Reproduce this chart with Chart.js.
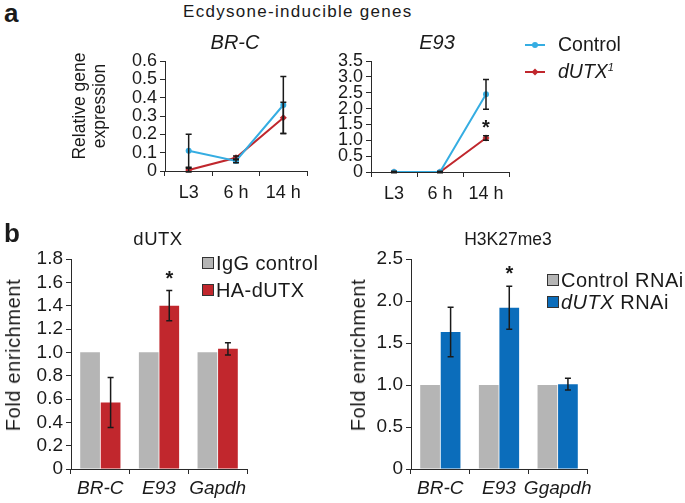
<!DOCTYPE html>
<html><head><meta charset="utf-8">
<script src="https://cdn.jsdelivr.net/npm/chart.js@4/dist/chart.umd.min.js"></script>
<style>
html,body{margin:0;padding:0;background:#fff}
body{width:685px;height:503px;position:relative;overflow:hidden;font-family:'Liberation Sans',Arial,sans-serif;color:#1a1a1a}
canvas{position:absolute}
.t{position:absolute;white-space:nowrap;line-height:1}
</style></head><body>
<canvas id="c1" width="260" height="175" style="left:60px;top:35px"></canvas>
<canvas id="c2" width="200" height="175" style="left:330px;top:35px"></canvas>
<canvas id="c3" width="255" height="273" style="left:10px;top:230px"></canvas>
<canvas id="c4" width="245" height="273" style="left:360px;top:230px"></canvas>
<script>
// ---------- data ----------
const stages = ['L3', '6 h', '14 h'];
const brcControl = [0.11, 0.055, 0.36];
const brcControlErr = [0.09, 0.01, 0.155];
const brcMutant = [0.005, 0.072, 0.29];
const brcMutantErr = [0.01, 0.01, 0.085];
const e93Control = [0, 0, 2.45];
const e93ControlErr = [0, 0, 0.47];
const e93Mutant = [0, 0, 1.07];
const e93MutantErr = [0.02, 0.02, 0.07];
const e93Significant = [false, false, true];

const genesLeft = ['BR-C', 'E93', 'Gapdh'];
const igg = [1, 1, 1];
const haDutx = [0.57, 1.40, 1.03];
const haDutxErr = [0.215, 0.13, 0.053];
const dutxSignificant = [false, true, false];

const genesRight = ['BR-C', 'E93', 'Ggapdh'];
const controlRnai = [1, 1, 1];
const dutxRnai = [1.63, 1.92, 1.01];
const dutxRnaiErr = [0.295, 0.255, 0.07];
const h3Significant = [false, true, false];

const brcTicks = ['0', '0.1', '0.2', '0.3', '0.4', '0.5', '0.6'];
const e93Ticks = ['0', '0.5', '1.0', '1.5', '2.0', '2.5', '3.0', '3.5'];
const dutxTicks = ['0', '0.2', '0.4', '0.6', '0.8', '1.0', '1.2', '1.4', '1.6', '1.8'];
const h3Ticks = ['0', '0.5', '1.0', '1.5', '2.0', '2.5'];

// ---------- colours ----------
const LINE_BLUE = '#35ade2';
const LINE_RED = '#c0272d';
const BAR_GRAY = '#b5b5b5';
const BAR_RED = '#c1272d';
const BAR_BLUE = '#0b6dbb';
const AXIS = '#2a2a2a';
const INK = '#1a1a1a';
const FONT = "'Liberation Sans', Arial, sans-serif";

Chart.defaults.font.family = FONT;
Chart.defaults.color = INK;

// error bars + asterisks plugin
const errorBars = {
  id: 'errorBars',
  afterDatasetsDraw(chart) {
    const ctx = chart.ctx;
    const ys = chart.scales.y;
    ctx.save();
    ctx.strokeStyle = INK;
    ctx.lineWidth = 1.5;
    chart.data.datasets.forEach((ds, di) => {
      if (!ds.err) return;
      const meta = chart.getDatasetMeta(di);
      meta.data.forEach((el, i) => {
        const e = ds.err[i];
        if (!e) return;
        const v = ds.data[i];
        const x = el.x;
        const y1 = ys.getPixelForValue(v + e);
        const y2 = ys.getPixelForValue(v - e);
        ctx.beginPath();
        ctx.moveTo(x, y1); ctx.lineTo(x, y2);
        ctx.moveTo(x - 3, y1); ctx.lineTo(x + 3, y1);
        ctx.moveTo(x - 3, y2); ctx.lineTo(x + 3, y2);
        ctx.stroke();
      });
    });
    const cfg = chart.options.plugins.errorBars || {};
    const sig = cfg.sig, mode = cfg.mode;
    if (sig) {
      ctx.fillStyle = INK;
      ctx.font = 'bold 20px ' + FONT;
      ctx.textAlign = 'center';
      ctx.textBaseline = 'alphabetic';
      sig.forEach((s, i) => {
        if (!s) return;
        let x, y;
        if (mode === 'between') {
          const a = chart.data.datasets[0], b = chart.data.datasets[1];
          const lo = a.data[i] - a.err[i];
          const hi = b.data[i] + b.err[i];
          x = chart.getDatasetMeta(0).data[i].x;
          y = (ys.getPixelForValue(lo) + ys.getPixelForValue(hi)) / 2 + 11;
        } else {
          const b = chart.data.datasets[1];
          x = chart.getDatasetMeta(1).data[i].x;
          y = ys.getPixelForValue(b.data[i] + b.err[i]) - 6;
        }
        ctx.fillText('*', x, y);
      });
    }
    ctx.restore();
  }
};

function yAxis(max, step, labels, width, size) {
  return {
    min: 0, max: max,
    afterFit(s) { s.width = width; },
    border: { display: true, color: AXIS, width: 1 },
    grid: { display: true, drawOnChartArea: false, drawTicks: true, tickLength: 5, color: AXIS },
    ticks: {
      stepSize: step, padding: 3, color: INK, autoSkip: false,
      font: { size: size },
      callback: (v, i) => labels[i]
    }
  };
}
function xAxis(height, italic, size, pad) {
  return {
    offset: true,
    afterFit(s) { s.height = height; },
    border: { display: true, color: AXIS, width: 1 },
    grid: { display: true, offset: true, drawOnChartArea: false, drawTicks: true, tickLength: 5, color: AXIS },
    ticks: { padding: pad, color: INK, maxRotation: 0, autoSkip: false, font: { size: size, style: italic ? 'italic' : 'normal' } }
  };
}
function lineDs(label, data, err, color, style, r) {
  return { label, data, err, borderColor: color, backgroundColor: color, borderWidth: 2,
    pointStyle: style, pointRadius: r, pointBorderWidth: 0, tension: 0 };
}
function baseOpts(pad, yA, xA, extra) {
  return {
    responsive: false, animation: false,
    layout: { padding: pad },
    plugins: Object.assign({ legend: { display: false }, tooltip: { enabled: false } }, extra || {}),
    scales: { x: xA, y: yA }
  };
}

new Chart(document.getElementById('c1'), {
  type: 'line',
  data: { labels: stages, datasets: [
    lineDs('Control', brcControl, brcControlErr, LINE_BLUE, 'circle', 3),
    lineDs('dUTX1', brcMutant, brcMutantErr, LINE_RED, 'rectRot', 3.5)
  ]},
  options: baseOpts({ left: 0, top: 26, right: 13, bottom: 0 },
    yAxis(0.6, 0.1, brcTicks, 105, 18), xAxis(39, false, 18, 6)),
  plugins: [errorBars]
});

new Chart(document.getElementById('c2'), {
  type: 'line',
  data: { labels: stages, datasets: [
    lineDs('Control', e93Control, e93ControlErr, LINE_BLUE, 'circle', 3),
    lineDs('dUTX1', e93Mutant, e93MutantErr, LINE_RED, 'rectRot', 3.5)
  ]},
  options: baseOpts({ left: 0, top: 26, right: 21, bottom: 0 },
    yAxis(3.5, 0.5, e93Ticks, 41, 18), xAxis(38, false, 18, 6),
    { errorBars: { sig: e93Significant, mode: 'between' } }),
  plugins: [errorBars]
});

function barDs(label, data, err, color) {
  return { label, data, err, backgroundColor: color, borderWidth: 0,
    categoryPercentage: 0.7, barPercentage: 0.96 };
}

new Chart(document.getElementById('c3'), {
  type: 'bar',
  data: { labels: genesLeft, datasets: [
    barDs('IgG control', igg, null, BAR_GRAY),
    barDs('HA-dUTX', haDutx, haDutxErr, BAR_RED)
  ]},
  options: baseOpts({ left: 0, top: 29, right: 18, bottom: 0 },
    yAxis(1.8, 0.2, dutxTicks, 61, 19), xAxis(34, true, 19, 3),
    { errorBars: { sig: dutxSignificant, mode: 'above' } }),
  plugins: [errorBars]
});

new Chart(document.getElementById('c4'), {
  type: 'bar',
  data: { labels: genesRight, datasets: [
    barDs('Control RNAi', controlRnai, null, BAR_GRAY),
    barDs('dUTX RNAi', dutxRnai, dutxRnaiErr, BAR_BLUE)
  ]},
  options: baseOpts({ left: 0, top: 29, right: 18, bottom: 0 },
    yAxis(2.5, 0.5, h3Ticks, 51, 19), xAxis(34, true, 19, 3),
    { errorBars: { sig: h3Significant, mode: 'above' } }),
  plugins: [errorBars]
});

// ---------- html text ----------
function txt(html, x, baseline, size, o) {
  o = o || {};
  const d = document.createElement('div');
  d.className = 't';
  d.innerHTML = html;
  d.style.fontSize = size + 'px';
  d.style.top = (baseline - 0.8465 * size) + 'px';
  d.style.left = x + 'px';
  if (o.bold) d.style.fontWeight = 'bold';
  if (o.italic) d.style.fontStyle = 'italic';
  if (o.spacing) d.style.letterSpacing = o.spacing + 'px';
  if (o.center) d.style.transform = 'translateX(-50%)';
  document.body.appendChild(d);
  return d;
}
function vtxt(html, cx, cy, size, o) {
  o = o || {};
  const d = document.createElement('div');
  d.className = 't';
  d.innerHTML = html;
  d.style.fontSize = size + 'px';
  d.style.left = cx + 'px';
  d.style.top = cy + 'px';
  if (o.spacing) d.style.letterSpacing = o.spacing + 'px';
  d.style.transform = 'translate(-50%,-50%) rotate(-90deg)';
  document.body.appendChild(d);
}
txt('a', 4, 22, 26, { bold: true });
txt('b', 4, 242, 26, { bold: true });
txt('Ecdysone-inducible genes', 183, 17, 17, { spacing: 1.3 });
txt('BR-C', 235, 49, 20, { italic: true, center: true });
txt('E93', 437, 49, 20, { italic: true, center: true });
vtxt('Relative gene', 80, 106, 17.5);
vtxt('expression', 100, 106, 17.5);
txt('dUTX', 158, 246, 18.5, { center: true, spacing: 0.5 });
txt('H3K27me3', 508, 246, 17.5, { center: true });
vtxt('Fold enrichment', 13, 355, 20, { spacing: 0.6 });
vtxt('Fold enrichment', 358, 355, 20, { spacing: 0.6 });

// legends
function lineKey(x, y, color, diamond) {
  const s = document.createElementNS('http://www.w3.org/2000/svg', 'svg');
  s.setAttribute('width', 22); s.setAttribute('height', 10);
  s.style.position = 'absolute'; s.style.left = x + 'px'; s.style.top = (y - 5) + 'px';
  s.innerHTML = '<line x1="0" y1="5" x2="20" y2="5" stroke="' + color + '" stroke-width="2"/>' +
    (diamond ? '<path d="M10 1.5 L13.5 5 L10 8.5 L6.5 5 Z" fill="' + color + '"/>'
             : '<circle cx="10" cy="5" r="3" fill="' + color + '"/>');
  document.body.appendChild(s);
}
lineKey(525, 45, LINE_BLUE, false);
lineKey(525, 72, LINE_RED, true);
txt('Control', 558, 45 + 0.358 * 19.5, 19.5);
txt('<i>dUTX</i><sup style="font-size:11px;font-style:italic;vertical-align:7px">1</sup>', 558, 72 + 0.358 * 19.5, 19.5);

function boxKey(x, y, color) {
  const d = document.createElement('div');
  d.style.cssText = 'position:absolute;left:' + x + 'px;top:' + (y - 6) + 'px;width:10px;height:10px;border:1px solid #333;background:' + color;
  document.body.appendChild(d);
}
boxKey(202, 263, BAR_GRAY);
boxKey(202, 290, BAR_RED);
txt('IgG control', 216, 263 + 0.358 * 20, 20, { spacing: 0.4 });
txt('HA-dUTX', 216, 290 + 0.358 * 20, 20, { spacing: 0.4 });
boxKey(547, 280, BAR_GRAY);
boxKey(547, 302, BAR_BLUE);
txt('Control RNAi', 561, 280 + 0.358 * 20, 20, { spacing: 0.5 });
txt('<i>dUTX</i> RNAi', 561, 302 + 0.358 * 20, 20, { spacing: 0.5 });
</script>
</body></html>
